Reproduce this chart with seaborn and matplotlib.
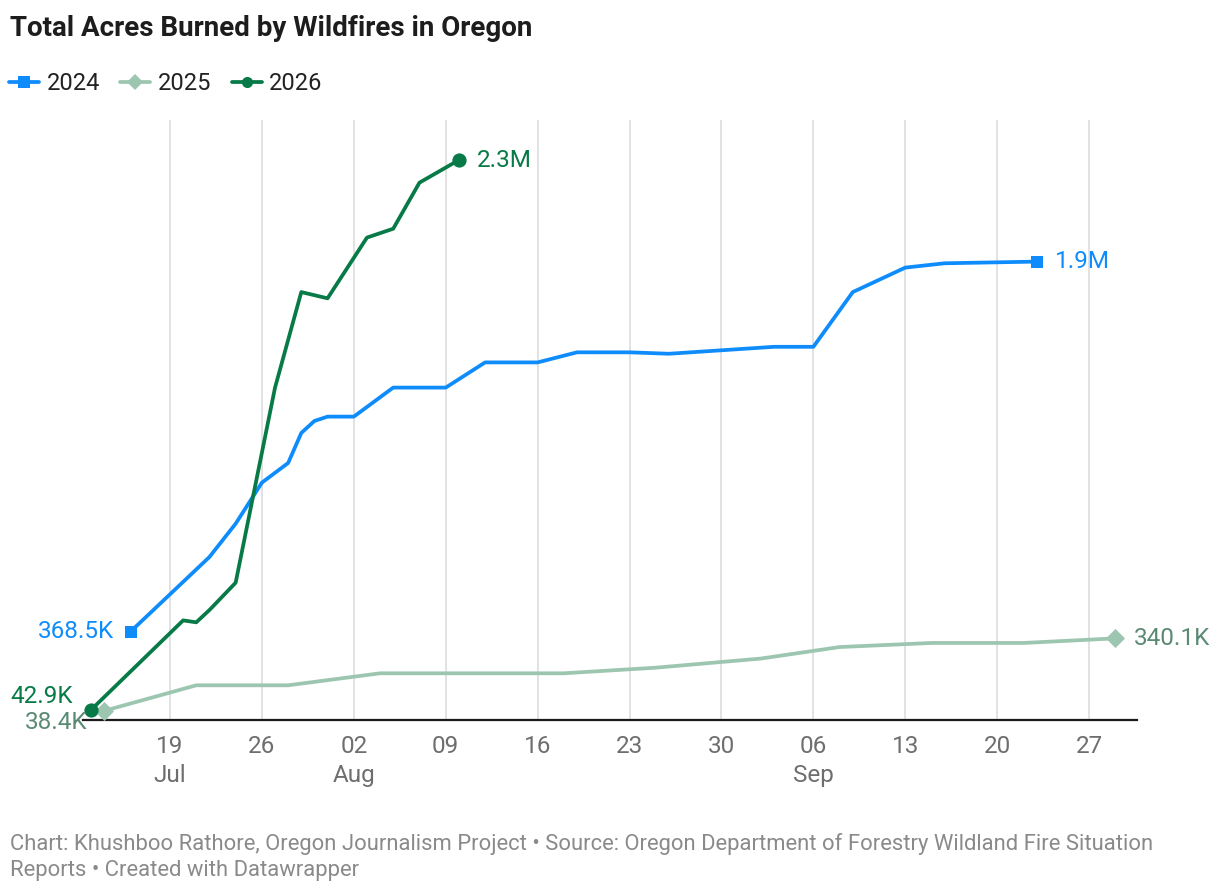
import matplotlib
matplotlib.use("Agg")
import matplotlib.pyplot as plt
from matplotlib.lines import Line2D
import seaborn as sns
import pandas as pd

# ---------------- data (month-day, acres burned in millions) ----------------
dates_2024 = ["07-16", "07-22", "07-24", "07-26", "07-28", "07-29", "07-30", "07-31",
              "08-02", "08-05", "08-09", "08-12", "08-16", "08-19", "08-23", "08-26",
              "09-03", "09-06", "09-09", "09-13", "09-16", "09-23"]
acres_2024 = [0.3685, 0.679, 0.818, 0.989, 1.071, 1.196, 1.246, 1.264,
              1.264, 1.385, 1.385, 1.490, 1.490, 1.532, 1.532, 1.526,
              1.555, 1.555, 1.783, 1.885, 1.903, 1.910]

dates_2025 = ["07-14", "07-21", "07-28", "08-04", "08-18", "08-25", "09-02",
              "09-08", "09-15", "09-22", "09-29"]
acres_2025 = [0.0384, 0.1446, 0.1446, 0.1946, 0.1946, 0.218, 0.256,
              0.304, 0.321, 0.321, 0.3401]

dates_2026 = ["07-13", "07-20", "07-21", "07-22", "07-24", "07-27", "07-29",
              "07-31", "08-03", "08-05", "08-07", "08-10"]
acres_2026 = [0.0429, 0.415, 0.407, 0.458, 0.572, 1.385, 1.783,
              1.757, 2.010, 2.047, 2.239, 2.333]

seasons = ["2024", "2025", "2026"]
start_labels = ["368.5K", "38.4K", "42.9K"]
end_labels = ["1.9M", "340.1K", "2.3M"]

tick_dates = ["07-19", "07-26", "08-02", "08-09", "08-16", "08-23", "08-30",
              "09-06", "09-13", "09-20", "09-27"]
tick_labels = ["19\nJul", "26", "02\nAug", "09", "16", "23", "30",
               "06\nSep", "13", "20", "27"]

title = "Total Acres Burned by Wildfires in Oregon"
footer = ("Chart: Khushboo Rathore, Oregon Journalism Project \u2022 Source: Oregon Department "
          "of Forestry Wildland Fire Situation\nReports \u2022 Created with Datawrapper")

# ---------------- styling ----------------
line_colors = {"2024": "#0f8cfc", "2025": "#9dc6b1", "2026": "#077a47"}
label_colors = {"2024": "#0f8cfc", "2025": "#5a8a73", "2026": "#077a47"}
markers = {"2024": "s", "2025": "D", "2026": "o"}
marker_sizes = {"2024": 80, "2025": 95, "2026": 105}
start_offsets = {"2024": (-12, 0), "2025": (-12, -8.5), "2026": (-13, 9.5)}

PLOT_YEAR = 2026


def to_dt(md):
    return pd.to_datetime(f"{PLOT_YEAR}-{md}")


rows = []
for s, ds, vs in zip(seasons, [dates_2024, dates_2025, dates_2026],
                     [acres_2024, acres_2025, acres_2026]):
    for d, v in zip(ds, vs):
        rows.append({"season": s, "date": to_dt(d), "acres": v})
df = pd.DataFrame(rows)

sns.set_theme(style="white")
plt.rcParams["font.family"] = ["Roboto", "DejaVu Sans"]

W, H = 1220, 892
fig = plt.figure(figsize=(W / 100, H / 100), dpi=100)
ax = fig.add_axes([83 / W, 1 - 720 / H, (1137 - 83) / W, 600 / H])

sns.lineplot(data=df, x="date", y="acres", hue="season", palette=line_colors,
             linewidth=2.7, estimator=None, sort=False, legend=False, ax=ax, zorder=3)

ends = pd.concat([df.groupby("season").head(1), df.groupby("season").tail(1)])
for s in seasons:
    sub = ends[ends["season"] == s]
    sns.scatterplot(data=sub, x="date", y="acres", color=line_colors[s],
                    marker=markers[s], s=marker_sizes[s], linewidth=0,
                    legend=False, ax=ax, zorder=4)

# end-point labels
fs = 17.5
for s, sl, el in zip(seasons, start_labels, end_labels):
    sub = df[df["season"] == s]
    first, last = sub.iloc[0], sub.iloc[-1]
    ax.annotate(el, (last["date"], last["acres"]), xytext=(13, 0),
                textcoords="offset points", ha="left", va="center",
                fontsize=fs, color=label_colors[s])
    ax.annotate(sl, (first["date"], first["acres"]), xytext=start_offsets[s],
                textcoords="offset points", ha="right", va="center",
                fontsize=fs, color=label_colors[s], zorder=5)

# axes
ax.set_xlim(pd.Timestamp(f"{PLOT_YEAR}-07-12 09:00"), pd.Timestamp(f"{PLOT_YEAR}-09-30 15:30"))
ax.set_ylim(0, 2.5)
ax.set_xticks([to_dt(d) for d in tick_dates])
ax.set_xticklabels(tick_labels, fontsize=fs, color="#6e6e6e", linespacing=1.38)
ax.set_yticks([])
ax.set_xlabel("")
ax.set_ylabel("")
ax.tick_params(axis="x", length=0, pad=10.5)
ax.grid(axis="x", color="#e2e2e2", linewidth=1.4)
ax.grid(axis="y", visible=False)
for side in ["top", "left", "right"]:
    ax.spines[side].set_visible(False)
ax.spines["bottom"].set_color("#1a1a1a")
ax.spines["bottom"].set_linewidth(1.6)
ax.spines["bottom"].set_zorder(2)
ax.set_facecolor("white")

# legend
handles = [Line2D([0], [0], color=line_colors[s], lw=2.7, marker=markers[s],
                  markersize=8 if s != "2025" else 8.5, markeredgewidth=0)
           for s in seasons]
fig.legend(handles, seasons, loc="center left", bbox_to_anchor=(9 / W, 1 - 84 / H),
           ncol=3, frameon=False, fontsize=17, handlelength=1.27,
           handletextpad=0.33, columnspacing=0.85, borderpad=0, borderaxespad=0,
           labelcolor="#222222")

fig.text(10 / W, 1 - 28 / H, title, ha="left", va="center", fontsize=20,
         fontweight="bold", color="#1d1d1d")
fig.text(10 / W, 1 - 833 / H, footer, ha="left", va="top", fontsize=15.8,
         color="#8a8a8a", linespacing=1.3)

fig.savefig("out.png", dpi=100, facecolor="white")
